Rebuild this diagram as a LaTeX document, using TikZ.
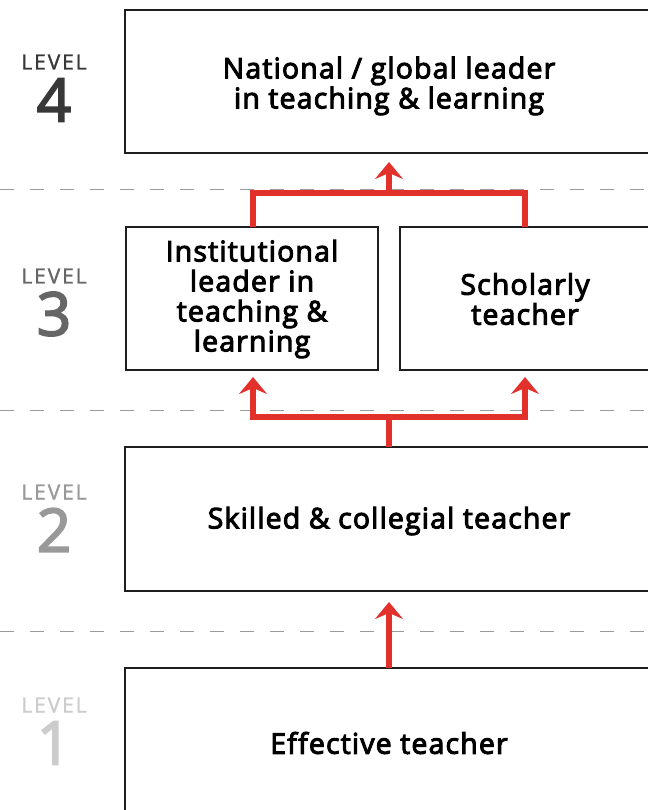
\documentclass[tikz,border=0pt]{standalone}
\usepackage{fontspec}
\setmainfont{Open Sans}
\newfontfamily\labelface{Open Sans}[FakeBold=3.5, LetterSpace=4, Ligatures=NoCommon]
\newfontfamily\levelface{Open Sans}[FakeBold=1.5, LetterSpace=9]
\newfontfamily\numface{Open Sans}[FakeBold=3]
\usetikzlibrary{arrows.meta}
\definecolor{arrowred}{HTML}{E2312B}
\definecolor{boxline}{HTML}{1E1E1E}
\definecolor{rulegray}{HTML}{9A9A9A}
\tikzset{
  levelbox/.style={draw=boxline, line width=2pt, fill=white},
  boxtext/.style={align=center, font=\labelface\fontsize{28.5}{30}\selectfont, text=black},
  levelword/.style={font=\levelface\fontsize{21}{21}\selectfont},
  levelnum/.style={font=\numface\fontsize{60}{60}\selectfont},
  divider/.style={draw=rulegray, line width=1pt, dash pattern=on 14pt off 16pt},
  uparrow/.style={draw=arrowred, line width=6pt,
    -{Stealth[length=17pt, width=28pt, inset=6pt]}},
  redline/.style={draw=arrowred, line width=6pt}
}
\begin{document}
\begin{tikzpicture}[x=1pt, y=-1pt]
\useasboundingbox (0,0) rectangle (647,810);

% dashed dividers between levels
\draw[divider] (0,190) -- (647,190);
\draw[divider] (0,410) -- (647,410);
\draw[divider] (0,631) -- (647,631);

% boxes (they run off the right edge)
\draw[levelbox] (125,10) rectangle (660,153);
\node[boxtext] (l4) at (389,86) {National / global leader\\in teaching \& learning};

\draw[levelbox] (126,227) rectangle (378,370);
\node[boxtext] (l3a) at (252,299) {Institutional\\leader in\\teaching \&\\learning};
\draw[levelbox] (400,227) rectangle (660,370);
\node[boxtext] (l3b) at (525,299) {Scholarly\\teacher};

\draw[levelbox] (125,447) rectangle (660,591);
\node[boxtext] (l2) at (389,521) {Skilled \& collegial teacher};

\draw[levelbox] (125,668) rectangle (660,830);
\node[boxtext] (l1) at (389,743) {Effective teacher};

% level labels
\node[levelword, text=black!78] (w4) at (54,62) {LEVEL};
\node[levelnum, text=black!78] (n4) at (54,100) {4};
\node[levelword, text=black!60] (w3) at (54,276) {LEVEL};
\node[levelnum, text=black!60] (n3) at (54,314) {3};
\node[levelword, text=black!40] (w2) at (54,492) {LEVEL};
\node[levelnum, text=black!40] (n2) at (54,530) {2};
\node[levelword, text=black!20] (w1) at (54,705) {LEVEL};
\node[levelnum, text=black!20] (n1) at (54,743) {1};

% connector junctions
\coordinate (j3l) at (253,193);
\coordinate (j3r) at (525,193);
\coordinate (j3) at (389,193);
\coordinate (t4) at (389,162);
\coordinate (j2) at (389,417);
\coordinate (j2l) at (253,417);
\coordinate (j2r) at (525,417);
\coordinate (t3l) at (253,377);
\coordinate (t3r) at (525,377);
\coordinate (t2) at (389,602);

% level 3 -> level 4
\draw[redline, line join=miter] (253,227) -- (j3l) -- (j3r) -- (525,227);
\draw[uparrow] (j3) -- (t4);
% level 2 -> level 3
\draw[redline] (389,447) -- (j2);
\draw[redline, line join=miter] (j2l) -- (j2r);
\draw[uparrow] (j2l) ++(0,3) -- (t3l);
\draw[uparrow] (j2r) ++(0,3) -- (t3r);
% level 1 -> level 2
\draw[uparrow] (389,668) -- (t2);
\end{tikzpicture}
\end{document}
